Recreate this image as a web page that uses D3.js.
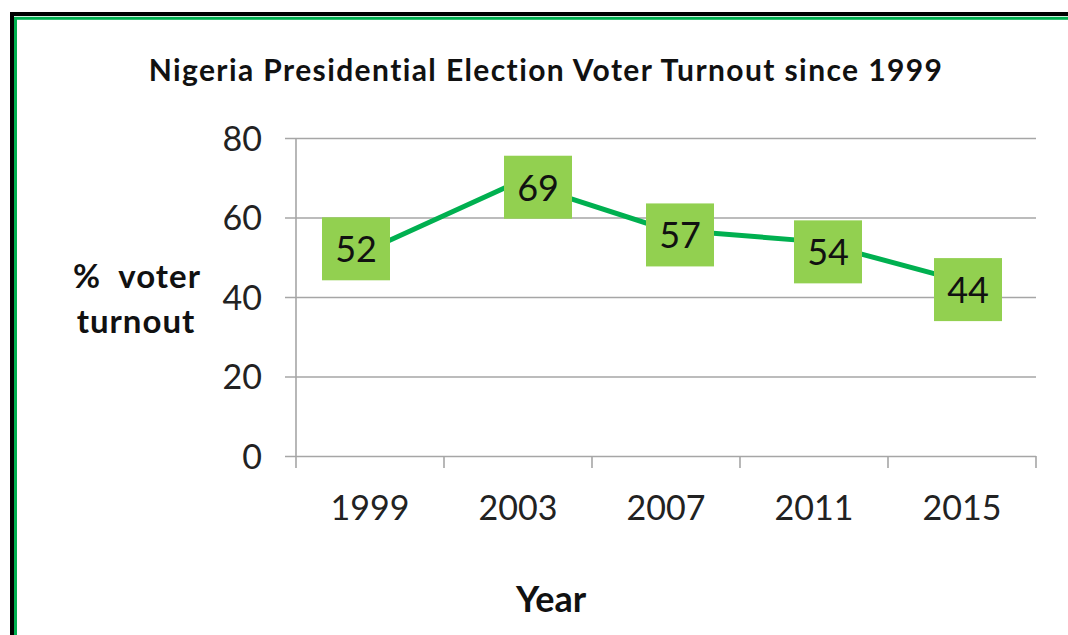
<!DOCTYPE html>
<html>
<head>
<meta charset="utf-8">
<script src="https://cdn.jsdelivr.net/npm/d3@7"></script>
<style>
  body { margin: 0; background: #fff; }
  svg { display: block; font-family: Lato, "Open Sans", sans-serif; }
</style>
</head>
<body>
<div id="chart"></div>
<script>
const years = ["1999", "2003", "2007", "2011", "2015"];
const turnout = [52, 69, 57, 54, 44];
const yTicks = [0, 20, 40, 60, 80];
// hand placed label offsets, as in the original sheet
const labelDx = [-14, 20, 14, 14, 6];
const labelDy = [0, 6, 6, 11, 9];

const width = 1068, height = 635;
const plot = { left: 296, right: 1036, top: 138, bottom: 456 };

const svg = d3.select("#chart").append("svg")
  .attr("width", width)
  .attr("height", height);

svg.append("rect").attr("width", width).attr("height", height).attr("fill", "#fff");

// frame (black outer, green inner), cut off on right and bottom
svg.append("rect")
  .attr("x", 12).attr("y", 14)
  .attr("width", 1200).attr("height", 800)
  .attr("fill", "none").attr("stroke", "#000").attr("stroke-width", 4);
svg.append("rect")
  .attr("x", 15.5).attr("y", 18.3)
  .attr("width", 1200).attr("height", 800)
  .attr("fill", "none").attr("stroke", "#00b050").attr("stroke-width", 3);

const x = d3.scaleBand().domain(years).range([plot.left, plot.right]).padding(0);
const y = d3.scaleLinear().domain([0, 80]).range([plot.bottom, plot.top]);

// y axis with gridlines
const gy = svg.append("g")
  .attr("transform", `translate(${plot.left},0)`)
  .call(d3.axisLeft(y).tickValues(yTicks).tickSize(-(plot.right - plot.left)).tickPadding(0))
  .attr("font-family", null)
  .attr("font-size", null);
gy.select(".domain").remove();
gy.selectAll(".tick line")
  .attr("x1", -11)
  .attr("x2", plot.right - plot.left)
  .attr("stroke", "#a6a6a6")
  .attr("stroke-width", 1.6);
gy.selectAll(".tick text")
  .attr("x", -34)
  .attr("dy", "0.36em")
  .attr("fill", "#222")
  .attr("font-size", 34);
svg.append("line")
  .attr("x1", plot.left).attr("x2", plot.left)
  .attr("y1", plot.top).attr("y2", plot.bottom)
  .attr("stroke", "#a6a6a6").attr("stroke-width", 1.6);

// x axis: labels at band centres, ticks at band edges
const gx = svg.append("g")
  .attr("transform", `translate(0,${plot.bottom})`)
  .call(d3.axisBottom(x).tickSize(0).tickPadding(0))
  .attr("font-family", null)
  .attr("font-size", null);
gx.select(".domain").remove();
gx.selectAll(".tick text")
  .attr("y", 64)
  .attr("dy", 0)
  .attr("fill", "#222")
  .attr("font-size", 34);

const edges = years.map(d => x(d)).concat([plot.right]);
svg.append("g").selectAll("line")
  .data(edges)
  .join("line")
  .attr("x1", d => d).attr("x2", d => d)
  .attr("y1", plot.bottom).attr("y2", plot.bottom + 12)
  .attr("stroke", "#a6a6a6").attr("stroke-width", 1.6);

// line
const pts = years.map((d, i) => ({ year: d, value: turnout[i], i }));
svg.append("path")
  .datum(pts)
  .attr("fill", "none")
  .attr("stroke", "#00b050")
  .attr("stroke-width", 5)
  .attr("d", d3.line().x(d => x(d.year) + x.bandwidth() / 2).y(d => y(d.value)));

// data labels
const lab = svg.append("g").selectAll("g")
  .data(pts)
  .join("g")
  .attr("transform", d => `translate(${x(d.year) + x.bandwidth() / 2 + labelDx[d.i]},${y(d.value) + labelDy[d.i]})`);
lab.append("rect")
  .attr("x", -34).attr("y", -32)
  .attr("width", 68).attr("height", 63)
  .attr("fill", "#92d050");
lab.append("text")
  .attr("text-anchor", "middle")
  .attr("dy", "0.36em")
  .attr("font-size", 36)
  .attr("fill", "#111")
  .text(d => d.value);

// titles
svg.append("text")
  .attr("x", 546).attr("y", 81)
  .attr("text-anchor", "middle")
  .attr("font-weight", "bold")
  .attr("font-size", 30)
  .attr("letter-spacing", 1.4)
  .attr("fill", "#111")
  .text("Nigeria Presidential Election Voter Turnout since 1999");

const yt = svg.append("text")
  .attr("text-anchor", "middle")
  .attr("font-weight", "bold")
  .attr("font-size", 33)
  .attr("letter-spacing", 1)
  .attr("fill", "#111")
  .style("white-space", "pre");
yt.append("tspan").attr("x", 137).attr("y", 288).text("%  voter");
yt.append("tspan").attr("x", 136).attr("y", 333).text("turnout");

svg.append("text")
  .attr("x", 551).attr("y", 612)
  .attr("text-anchor", "middle")
  .attr("font-weight", "bold")
  .attr("font-size", 36)
  .attr("fill", "#111")
  .text("Year");
</script>
</body>
</html>
